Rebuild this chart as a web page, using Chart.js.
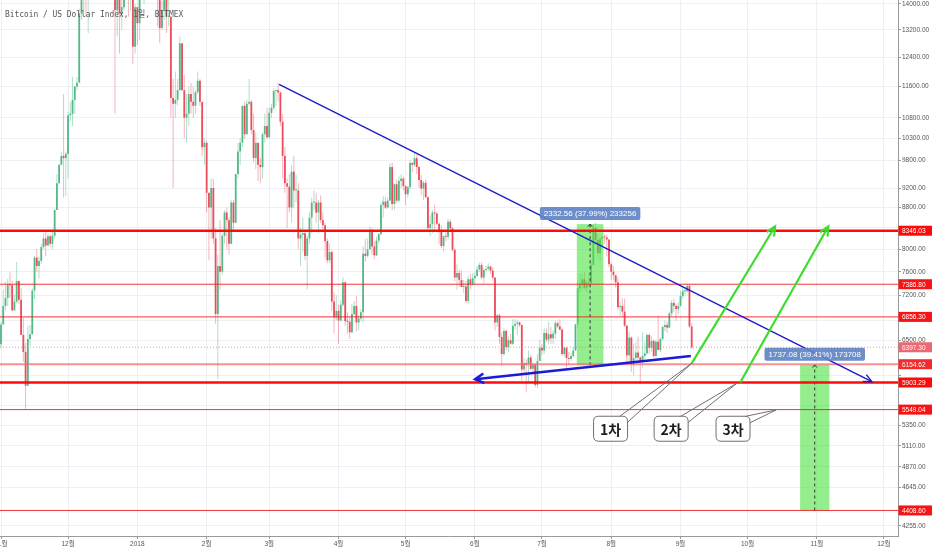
<!DOCTYPE html>
<html><head><meta charset="utf-8">
<script src="https://cdn.jsdelivr.net/npm/chart.js@4.4.1/dist/chart.umd.min.js"></script>
<style>html,body{margin:0;padding:0;background:#fff;}canvas{display:block;}</style>
</head><body>
<canvas id="c" width="932" height="550"></canvas>
<script>
// ---- DATA (daily candles, day 0 = 2017-11-01) ----
const titleText = 'Bitcoin / US Dollar Index, 1일, BITMEX';
const open = [
// Nov 2017
6440,6740,7030,7160,7380,7370,6960,7100,7440,7130,6580,6330,5860,6520,6590,7280,7850,7700,7790,8040,8200,8070,8240,8100,8250,8750,9300,9700,9900,9850,
// Dec
9950,10860,10900,11250,11600,11700,13700,16800,16000,15000,15200,16700,17200,16400,16500,17600,19200,19000,18900,17200,16400,15600,13800,14200,13700,13900,15800,15400,14300,14500,12700,
// Jan 2018
13900,13400,14750,15050,15200,16900,17100,16200,14900,14400,14900,13250,13800,14200,13600,13600,11300,11150,11250,11500,12800,11500,10800,10900,11400,11200,11100,11450,11750,11200,10100,
// Feb
10200,9100,8800,9200,8200,6900,7700,7600,8250,8700,8550,8100,8900,8500,9500,10000,10200,11100,10400,11150,11200,10500,9850,10200,9700,9650,10400,10600,
// Mar
10330,10920,11050,11480,11500,11440,10700,9900,9300,9230,8800,9550,9150,9150,8200,8270,8300,7880,8200,8600,8900,8900,8700,8900,8550,8450,8150,7800,7950,7100,6850,
// Apr
6950,6800,7050,7420,6790,6780,6620,6900,7030,6770,6830,6930,7920,7880,8000,8350,8050,7890,8160,8280,8850,8920,8800,8940,9650,8870,9280,8940,9350,9400,
// May
9240,9070,9220,9740,9700,9850,9650,9370,9190,9310,9010,8400,8470,8700,8680,8480,8350,8060,8240,8230,8520,8390,7990,7500,7580,7460,7340,7350,7110,7470,7390,
// Jun
7490,7530,7640,7720,7500,7630,7650,7690,7620,7500,6770,6880,6550,6300,6640,6400,6500,6450,6720,6750,6770,6730,6080,6170,6150,6250,6090,6150,5870,6200,
// Jul
6390,6350,6610,6510,6590,6530,6600,6760,6710,6660,6300,6390,6240,6230,6270,6350,6740,7320,7380,7470,7330,7410,7400,7720,8400,8170,7930,8190,8230,8220,8180,
// Aug
7730,7600,7540,7420,7010,7030,6940,6720,6280,6540,6150,6240,6320,6250,6190,6270,6310,6580,6390,6490,6270,6480,6360,6520,6700,6730,6690,6910,7080,7030,6980,
// Sep
7030,7190,7270,7270,7360,6710
];
const high = [
6780,7300,7430,7480,7590,7440,7210,7770,7450,7320,6840,6460,6710,6730,7320,7880,8000,7870,8100,8300,8370,8300,8280,8340,8760,9500,9720,10000,11400,10000,
10940,11200,11860,11600,11850,13850,17100,17200,16300,15700,17400,17500,17300,16900,17900,19500,19700,19100,18900,17800,17300,15900,15000,14400,14400,16400,16500,15600,14900,14500,14000,
13900,15300,15400,15400,17100,17200,17100,16300,15300,14900,14900,14100,14500,14300,14300,13600,11800,12000,11800,13000,12800,11900,11400,11600,11700,11600,11500,12000,11800,11200,10300,
10250,9100,9400,9400,8400,7900,8550,8300,8750,8800,8600,8950,8950,9500,10200,10300,11100,11200,11250,11800,11250,10900,10450,10200,9850,10450,10900,11050,
11050,11150,11550,11500,11700,11450,10900,10100,9400,9500,9700,9900,9500,9300,8400,8600,8350,8250,8700,9000,9150,9100,8950,9050,8700,8500,8200,8100,7980,7250,7200,
7050,7120,7500,7430,6930,6860,7060,7110,7190,6890,6980,8050,8200,8200,8430,8400,8150,8230,8300,8900,9030,9020,9000,9730,9750,9300,9380,9450,9500,9450,
9260,9250,9800,9760,9990,9930,9680,9470,9350,9380,9030,8650,8750,8860,8720,8500,8450,8260,8350,8580,8560,8420,8020,7740,7640,7620,7460,7440,7530,7560,7580,
7600,7700,7760,7760,7660,7700,7750,7710,7680,7500,6900,6900,6620,6680,6660,6560,6590,6820,6820,6800,6790,6740,6240,6220,6350,6290,6180,6170,6300,6500,
6440,6680,6680,6780,6700,6650,6800,6790,6820,6680,6410,6400,6330,6310,6400,6750,7450,7580,7560,7600,7450,7560,7780,8480,8500,8280,8260,8240,8280,8280,8180,
7760,7700,7540,7500,7090,7150,7150,6730,6630,6560,6450,6470,6550,6260,6620,6480,6600,6600,6560,6520,6500,6880,6540,6720,6800,6780,6940,7120,7140,7060,7090,
7270,7340,7350,7400,7390,6760
];
const low = [
6390,6730,6960,7030,7160,6940,6950,7070,7060,6580,6190,5550,5860,6420,6590,7140,7600,7480,7730,8000,7880,8060,8040,8000,8200,8750,9300,9700,9000,9040,
9400,10700,10600,10900,11500,11700,13500,13800,13600,13100,15000,16500,16000,16000,16400,17500,18800,17300,16800,15700,14900,10900,13000,12500,13200,13800,15000,13600,13800,12200,12500,
12750,12900,14600,14000,14800,16300,16100,14200,14300,13300,12800,13200,13500,13100,13300,10800,9200,10800,11100,11500,11500,10300,10200,10600,10900,10800,10900,11400,11100,9900,9700,
8700,7800,8200,8100,6750,5950,7300,7550,8100,8000,7900,8100,8350,8500,9400,9700,10100,10300,10400,11100,10400,9750,9600,9350,9300,9400,10200,10300,
10300,10800,11000,11100,11200,10600,9400,9100,8400,8700,8500,8800,8900,8000,7700,7950,7800,7300,8100,8300,8750,8500,8300,8500,8350,7850,7750,7750,6950,6600,6800,
6450,6780,7020,6720,6600,6520,6600,6880,6630,6650,6800,6770,7780,7850,8000,7900,7820,7880,8100,8270,8600,8770,8780,8930,8750,8750,8900,8900,9200,9150,
8850,9000,9180,9550,9650,9500,9200,9050,8950,8980,8350,8250,8300,8350,8450,8100,8020,7950,8150,8180,8340,7950,7440,7300,7350,7340,7240,7080,7070,7300,7360,
7360,7500,7600,7470,7400,7600,7620,7560,7450,6650,6700,6450,6130,6280,6350,6330,6440,6430,6660,6580,6700,5930,6020,5780,5900,6070,6040,5840,5830,6200,
6280,6300,6480,6440,6450,6450,6520,6680,6650,6280,6260,6100,6140,6200,6250,6340,6680,7250,7280,7300,7250,7330,7380,7700,8080,7850,7800,8060,8100,7870,7680,
7460,7450,7330,6960,6880,6850,6700,6150,6200,6050,6000,6200,6180,5880,6110,6220,6290,6300,6330,6250,6250,6360,6330,6500,6640,6610,6680,6860,6930,6800,6900,
7020,7140,7210,7250,6680,6370
];
const close = [
6740,7030,7160,7380,7370,6960,7100,7440,7130,6580,6330,5860,6520,6590,7280,7850,7700,7790,8040,8200,8070,8240,8100,8250,8750,9300,9700,9900,9850,9950,
10860,10900,11250,11600,11700,13700,16800,16000,15000,15200,16700,17200,16400,16500,17600,19200,19000,18900,17200,16400,15600,13800,14200,13700,13900,15800,15400,14300,14500,12700,13900,
13400,14750,15050,15200,16900,17100,16200,14900,14400,14900,13250,13800,14200,13600,13600,11300,11150,11250,11500,12800,11500,10800,10900,11400,11200,11100,11450,11750,11200,10100,10200,
9100,8800,9200,8200,6900,7700,7600,8250,8700,8550,8100,8900,8500,9500,10000,10200,11100,10400,11150,11200,10500,9850,10200,9700,9650,10400,10600,10330,
10920,11050,11480,11500,11440,10700,9900,9300,9230,8800,9550,9150,9150,8200,8270,8300,7880,8200,8600,8900,8900,8700,8900,8550,8450,8150,7800,7950,7100,6850,6950,
6800,7050,7420,6790,6780,6620,6900,7030,6770,6830,6930,7920,7880,8000,8350,8050,7890,8160,8280,8850,8920,8800,8940,9650,8870,9280,8940,9350,9400,9240,
9070,9220,9740,9700,9850,9650,9370,9190,9310,9010,8400,8470,8700,8680,8480,8350,8060,8240,8230,8520,8390,7990,7500,7580,7460,7340,7350,7110,7470,7390,7490,
7530,7640,7720,7500,7630,7650,7690,7620,7500,6770,6880,6550,6300,6640,6400,6500,6450,6720,6750,6770,6730,6080,6170,6150,6250,6090,6150,5870,6200,6390,
6350,6610,6510,6590,6530,6600,6760,6710,6660,6300,6390,6240,6230,6270,6350,6740,7320,7380,7470,7330,7410,7400,7720,8400,8170,7930,8190,8230,8220,8180,7730,
7600,7540,7420,7010,7030,6940,6720,6280,6540,6150,6240,6320,6250,6190,6270,6310,6580,6390,6490,6270,6480,6360,6520,6700,6730,6690,6910,7080,7030,6980,7030,
7190,7270,7270,7360,6710,6397.3
];

// axis ticks
const monthTickDays = [0,30,61,92,120,151,181,212,242,273,304,334,365,395];
const monthTickLabels = ['11월','12월','2018','2월','3월','4월','5월','6월','7월','8월','9월','10월','11월','12월'];
const priceTicks = [14000,13200,12400,11600,10800,10300,9800,9200,8800,8400,8000,7600,7200,6800,6500,6000,5600,5350,5110,4870,4645,4255];
const hiddenPriceTicks = [8400,6800,6000,5600];
const xRange = [-0.45, 401.3];
const yRange = [4159, 14128];

// drawn levels / annotations (data coordinates: day index, price)
const levelPrices = [8346.03, 7386.80, 6856.30, 6154.62, 5903.29, 5549.04, 4408.60];
const lastPrice = close[close.length - 1];
const upperTrendDays = [124.4, 389.6], upperTrendPrices = [11657, 5914];
const lowerTrendDays = [212.1, 308.6], lowerTrendPrices = [5947, 6272];
const greenArrowStartDays = [309.0, 330.7], greenArrowStartPrices = [6167, 5903];
const greenArrowEndDays = [346.3, 370.1], greenArrowEndPrices = [8426, 8426];
const measureStartDays = [257.6, 357.5], measureEndDays = [269.5, 370.6];
const measureLows = [6140.3, 4408.6], measureDiffs = [2332.56, 1737.08];
const measureTexts = ['2332.56 (37.99%) 233256', '1737.08 (39.41%) 173708'];
const calloutLabels = ['1차', '2차', '3차'];
const calloutDays = [272.7, 299.8, 327.5];
const calloutPrice = 5312;
const calloutTargetDays = [309.0, 329.2, 346.8];
const calloutTargetPrices = [6167, 5893, 5545];

// ---- styles ----
const UP = '#53b987', DN = '#eb4d5c';
const UPW = 'rgba(83,185,135,0.45)', DNW = 'rgba(235,77,92,0.42)';
const SANS = '"Liberation Sans", Arial, "Noto Sans CJK KR", sans-serif';
const idx = close.map((_, i) => i);
const isUp = i => close[i] >= open[i];

function arrowHead(ctx, x1, y1, x2, y2, len, spread) {
  const a = Math.atan2(y2 - y1, x2 - x1);
  ctx.beginPath();
  ctx.moveTo(x2 - len * Math.cos(a - spread), y2 - len * Math.sin(a - spread));
  ctx.lineTo(x2, y2);
  ctx.lineTo(x2 - len * Math.cos(a + spread), y2 - len * Math.sin(a + spread));
  ctx.stroke();
}
function rrect(ctx, x, y, w, h, r) {
  ctx.beginPath();
  ctx.moveTo(x + r, y); ctx.lineTo(x + w - r, y); ctx.quadraticCurveTo(x + w, y, x + w, y + r);
  ctx.lineTo(x + w, y + h - r); ctx.quadraticCurveTo(x + w, y + h, x + w - r, y + h);
  ctx.lineTo(x + r, y + h); ctx.quadraticCurveTo(x, y + h, x, y + h - r);
  ctx.lineTo(x, y + r); ctx.quadraticCurveTo(x, y, x + r, y); ctx.closePath();
}

const levelStyle = {
  8346.03: {w: 2.5, c: '#ff0a0a', box: '#ff0a0a'},
  7386.80: {w: 1, c: 'rgba(240,30,30,0.9)', box: '#f81414'},
  6856.30: {w: 1, c: 'rgba(240,30,30,0.9)', box: '#f81414'},
  6154.62: {w: 2, c: 'rgba(244,110,110,0.75)', box: '#f52a2a'},
  5903.29: {w: 2.5, c: '#ff0a0a', box: '#ff0a0a'},
  5549.04: {w: 1, c: 'rgba(240,30,30,0.9)', box: '#f81414'},
  4408.60: {w: 1, c: 'rgba(240,30,30,0.9)', box: '#f81414'}
};

const annot = {
  id: 'annot',
  afterDatasetsDraw(chart) {
    const {ctx, chartArea: a, scales: {x, y}} = chart;
    const X = d => x.getPixelForValue(d), Y = p => y.getPixelForValue(p);
    ctx.save();
    ctx.beginPath(); ctx.rect(a.left, a.top, a.right - a.left, a.bottom - a.top); ctx.clip();

    // measure rectangles
    for (let i = 0; i < measureLows.length; i++) {
      const x0 = X(measureStartDays[i]), x1 = X(measureEndDays[i]);
      const yt = Y(measureLows[i] + measureDiffs[i]), yb = Y(measureLows[i]);
      ctx.fillStyle = 'rgba(70,226,60,0.58)';
      ctx.fillRect(x0, yt, x1 - x0, yb - yt);
      const cx = (x0 + x1) / 2;
      ctx.strokeStyle = '#333'; ctx.lineWidth = 1; ctx.setLineDash([3, 3]);
      ctx.beginPath(); ctx.moveTo(cx, yb); ctx.lineTo(cx, yt); ctx.stroke();
      ctx.setLineDash([]);
      arrowHead(ctx, cx, yb, cx, yt, 3.5, 0.7);
    }

    // horizontal levels
    levelPrices.forEach(p => {
      const s = levelStyle[p];
      ctx.strokeStyle = s.c; ctx.lineWidth = s.w;
      ctx.beginPath(); ctx.moveTo(a.left, Y(p)); ctx.lineTo(a.right, Y(p)); ctx.stroke();
    });
    // last price dotted line
    ctx.strokeStyle = 'rgba(238,110,110,0.75)'; ctx.lineWidth = 1; ctx.setLineDash([1, 2]);
    ctx.beginPath(); ctx.moveTo(a.left, Y(lastPrice)); ctx.lineTo(a.right, Y(lastPrice)); ctx.stroke();
    ctx.setLineDash([]);

    // upper descending trend line
    {
      const x1 = X(upperTrendDays[0]), y1 = Y(upperTrendPrices[0]), x2 = X(upperTrendDays[1]), y2 = Y(upperTrendPrices[1]);
      ctx.strokeStyle = '#1c1cc8'; ctx.lineWidth = 1.4;
      ctx.beginPath(); ctx.moveTo(x1, y1); ctx.lineTo(x2, y2); ctx.stroke();
      arrowHead(ctx, x1, y1, x2, y2, 9, 0.45);
    }
    // lower support line (arrow at left)
    {
      const x1 = X(lowerTrendDays[1]), y1 = Y(lowerTrendPrices[1]), x2 = X(lowerTrendDays[0]), y2 = Y(lowerTrendPrices[0]);
      ctx.strokeStyle = '#1a1ad8'; ctx.lineWidth = 2.5;
      ctx.beginPath(); ctx.moveTo(x1, y1); ctx.lineTo(x2, y2); ctx.stroke();
      arrowHead(ctx, x1, y1, x2, y2, 10, 0.5);
    }
    // green arrows
    for (let i = 0; i < greenArrowStartDays.length; i++) {
      const x1 = X(greenArrowStartDays[i]), y1 = Y(greenArrowStartPrices[i]);
      const x2 = X(greenArrowEndDays[i]), y2 = Y(greenArrowEndPrices[i]);
      ctx.strokeStyle = '#3ddc2e'; ctx.lineWidth = 2.2;
      ctx.beginPath(); ctx.moveTo(x1, y1); ctx.lineTo(x2, y2); ctx.stroke();
      arrowHead(ctx, x1, y1, x2, y2, 10, 0.45);
    }

    // callouts
    ctx.font = 'bold 14px "Noto Sans CJK KR", sans-serif';
    ctx.textAlign = 'center'; ctx.textBaseline = 'middle';
    for (let i = 0; i < calloutLabels.length; i++) {
      const cx = X(calloutDays[i]), cy = Y(calloutPrice);
      const w = 34, h = 25, l = cx - w / 2, t = cy - h / 2;
      const tx = X(calloutTargetDays[i]), ty = Y(calloutTargetPrices[i]);
      ctx.strokeStyle = '#6f6f6f'; ctx.lineWidth = 1;
      ctx.beginPath(); ctx.moveTo(l + w - 9, t + 1); ctx.lineTo(tx, ty); ctx.lineTo(l + w - 1, t + 7); ctx.stroke();
      rrect(ctx, l, t, w, h, 5);
      ctx.fillStyle = '#fff'; ctx.fill(); ctx.stroke();
      ctx.fillStyle = '#1e1e1e';
      ctx.fillText(calloutLabels[i], cx, cy + 1);
    }

    // measure labels
    ctx.font = '8px ' + SANS;
    for (let i = 0; i < measureLows.length; i++) {
      const cx = (X(measureStartDays[i]) + X(measureEndDays[i])) / 2;
      const yt = Y(measureLows[i] + measureDiffs[i]);
      const tw = ctx.measureText(measureTexts[i]).width + 8, th = 13;
      rrect(ctx, cx - tw / 2, yt - 4 - th, tw, th, 2);
      ctx.fillStyle = 'rgba(98,132,196,0.92)'; ctx.fill();
      ctx.fillStyle = '#fff';
      ctx.fillText(measureTexts[i], cx, yt - 4 - th / 2 + 0.5);
    }
    ctx.restore();
  },
  afterDraw(chart) {
    const {ctx, chartArea: a, scales: {y}} = chart;
    const Y = p => y.getPixelForValue(p);
    ctx.save();
    ctx.font = '6.5px ' + SANS;
    ctx.textAlign = 'left'; ctx.textBaseline = 'middle';
    const boxes = levelPrices.map(p => ({p, c: levelStyle[p].box}));
    boxes.push({p: lastPrice, c: '#ee6670'});
    boxes.forEach(b => {
      const yy = Y(b.p);
      ctx.fillStyle = b.c;
      ctx.fillRect(a.right + 0.5, yy - 5, chart.width - a.right, 10);
      ctx.fillStyle = '#fff';
      ctx.fillText(b.p.toFixed(2), a.right + 4, yy + 0.5);
    });
    // title
    ctx.fillStyle = '#555';
    ctx.textBaseline = 'alphabetic';
    ctx.font = '9.5px "DejaVu Sans Mono", "Noto Sans CJK KR", monospace';
    ctx.translate(5, 16.5); ctx.scale(0.83, 1);
    ctx.fillText(titleText, 0, 0);
    ctx.restore();
  }
};

new Chart(document.getElementById('c'), {
  type: 'bar',
  data: {
    datasets: [
      {data: idx.map(i => ({x: i, y: [low[i], high[i]]})), backgroundColor: idx.map(i => isUp(i) ? UPW : DNW),
       barThickness: 1, grouped: false, order: 2, inflateAmount: 0, borderWidth: 0},
      {data: idx.map(i => ({x: i, y: [open[i], close[i]]})), backgroundColor: idx.map(i => isUp(i) ? UP : DN),
       barThickness: 1.8, minBarLength: 1, grouped: false, order: 1, inflateAmount: 0, borderWidth: 0}
    ]
  },
  options: {
    responsive: false, animation: false,
    layout: {padding: 0},
    plugins: {legend: {display: false}, tooltip: {enabled: false}, title: {display: false}},
    scales: {
      x: {
        type: 'linear', min: xRange[0], max: xRange[1], bounds: 'data', offset: false,
        afterBuildTicks: s => { s.ticks = monthTickDays.map(v => ({value: v})); },
        afterFit: s => { s.height = 14; s.paddingLeft = 0; s.paddingRight = 0; },
        ticks: {autoSkip: false, maxRotation: 0, minRotation: 0, padding: 1, color: '#555',
          font: {size: 6.5, family: SANS},
          callback: (v, i) => monthTickLabels[i]},
        grid: {color: '#eceff4', offset: false, tickLength: 3, tickColor: '#999'},
        border: {color: '#9a9a9a'}
      },
      y: {
        type: 'logarithmic', position: 'right', min: yRange[0], max: yRange[1], bounds: 'data',
        afterBuildTicks: s => { s.ticks = priceTicks.map(v => ({value: v})); },
        afterFit: s => { s.width = 34; s.paddingTop = 0; s.paddingBottom = 0; },
        ticks: {autoSkip: false, padding: 1, color: '#555',
          font: {size: 6.5, family: SANS},
          callback: v => hiddenPriceTicks.includes(v) ? '' : Number(v).toFixed(2)},
        grid: {color: '#eceff4', tickLength: 3, tickColor: '#999'},
        border: {color: '#9a9a9a'}
      }
    }
  },
  plugins: [annot]
});
</script>
</body></html>
